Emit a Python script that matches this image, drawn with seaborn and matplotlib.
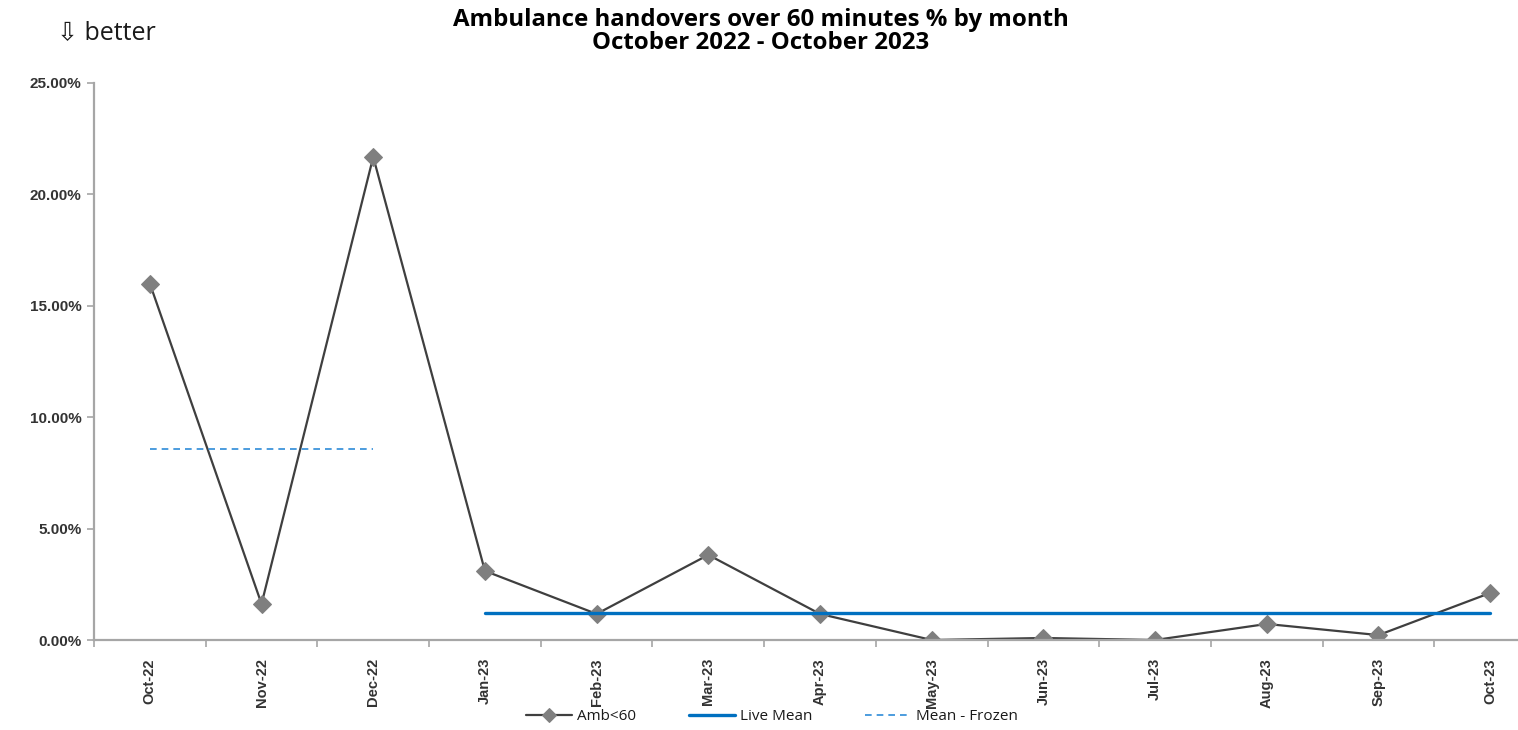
import copy
import numpy as np
import pandas as pd
import matplotlib
matplotlib.use("Agg")
import matplotlib.pyplot as plt
import seaborn as sns
from matplotlib.ticker import PercentFormatter, FixedLocator

months = ["Oct-22", "Nov-22", "Dec-22", "Jan-23", "Feb-23", "Mar-23", "Apr-23",
          "May-23", "Jun-23", "Jul-23", "Aug-23", "Sep-23", "Oct-23"]
amb_over_60 = [16.00, 1.62, 21.68, 3.10, 1.17, 3.82, 1.17, 0.00, 0.09, 0.00, 0.72, 0.22, 2.11]
live_mean = 1.21          # from Jan-23 onwards
frozen_mean = 8.57        # Oct-22 to Dec-22
live_start, frozen_end = 3, 2

sns.set_theme(style="white")
plt.rcParams["font.family"] = ["Liberation Sans", "DejaVu Sans"]

fig = plt.figure(figsize=(15.18, 7.30), dpi=100)
ax = fig.add_axes([94 / 1518, 1 - 640 / 730, (1546 - 94) / 1518, (640 - 83) / 730])

df = pd.DataFrame({"month": months, "pos": np.arange(len(months)), "value": amb_over_60})

sns.lineplot(data=df, x="pos", y="value", ax=ax, color="#3f3f3f", lw=1.6,
             marker="D", markersize=9.5, markerfacecolor="#7f7f7f",
             markeredgecolor="#7f7f7f", label="Amb<60")

live_x = df["pos"].iloc[live_start:]
sns.lineplot(x=live_x, y=[live_mean] * len(live_x), ax=ax, color="#0070c0",
             lw=2.4, label="Live Mean")
frozen_x = df["pos"].iloc[:frozen_end + 1]
sns.lineplot(x=frozen_x, y=[frozen_mean] * len(frozen_x), ax=ax, color="#2e8bd8",
             lw=1.2, linestyle=(0, (4, 3)), label="Mean - Frozen")

ax.set_xlim(-0.5, len(months) - 0.5)
ax.set_ylim(0, 25)
ax.yaxis.set_major_locator(FixedLocator([0, 5, 10, 15, 20, 25]))
ax.yaxis.set_major_formatter(PercentFormatter(decimals=2))
ax.set_xticks(df["pos"])
ax.set_xticklabels(months, rotation=90)
ax.xaxis.set_minor_locator(FixedLocator(np.arange(-0.5, len(months), 1.0)))
ax.set_xlabel("")
ax.set_ylabel("")

for side in ["top", "right"]:
    ax.spines[side].set_visible(False)
for side in ["left", "bottom"]:
    ax.spines[side].set_color("#a6a6a6")
    ax.spines[side].set_linewidth(1.6)

ax.tick_params(axis="y", which="major", left=True, length=5, width=1.2,
               color="#a6a6a6", labelsize=11, labelcolor="#333333", pad=4)
ax.tick_params(axis="x", which="major", bottom=False, labelsize=10.5,
               labelcolor="#333333", pad=7)
ax.tick_params(axis="x", which="minor", bottom=True, length=5, width=1.2,
               color="#a6a6a6")
for lbl in ax.get_yticklabels() + ax.get_xticklabels():
    lbl.set_fontweight("bold")

# legend uses copies so the plotted markers keep their size
handles, labels = ax.get_legend_handles_labels()
handles = [copy.copy(h) for h in handles]
handles[0].set_markersize(7)
leg = ax.legend(handles, labels, loc="center", bbox_to_anchor=(772 / 1518, 1 - 717 / 730),
                bbox_transform=fig.transFigure, ncol=3, frameon=False,
                handlelength=3.0, handletextpad=0.3, columnspacing=3.5,
                prop={"family": ["Open Sans", "DejaVu Sans"], "size": 11})
for t in leg.get_texts():
    t.set_color("#1a1a1a")

fig.text(761 / 1518, 1 - 20 / 730, "Ambulance handovers over 60 minutes % by month",
         ha="center", va="center", fontsize=17.3, fontweight="bold", color="black",
         family=["Open Sans", "DejaVu Sans"])
fig.text(761 / 1518, 1 - 43 / 730, "October 2022 - October 2023",
         ha="center", va="center", fontsize=17.3, fontweight="bold", color="black",
         family=["Open Sans", "DejaVu Sans"])
fig.text(57 / 1518, 1 - 33 / 730, "\u21e9 better", ha="left", va="center",
         fontsize=18, color="#1a1a1a", family=["Open Sans", "DejaVu Sans"])

fig.savefig("out.png", dpi=100)
